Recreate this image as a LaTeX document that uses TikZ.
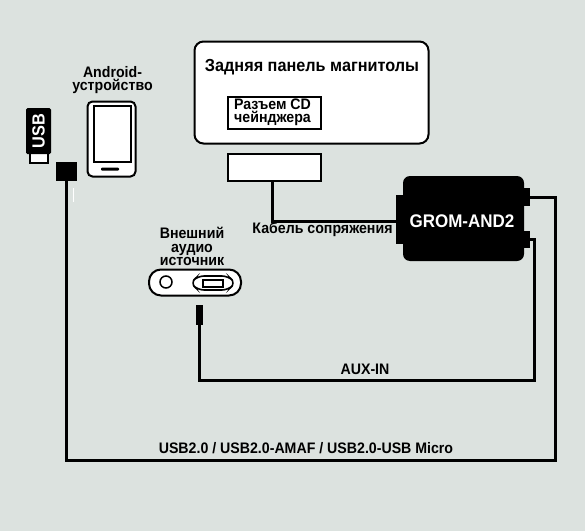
\documentclass[tikz,border=0pt]{standalone}
\usepackage{xcolor}
\usepackage{fontspec}
\setmainfont[FakeStretch=0.93]{Liberation Sans}
\usetikzlibrary{positioning,calc}
\definecolor{panelgray}{HTML}{DCE2DF}
\newlength{\px}
\setlength{\px}{0.03cm}
\tikzset{
    label/.style={inner sep=0pt, align=center, font=\fontsize{13pt}{11.2pt}\selectfont\bfseries},
    whitebox/.style={draw=black, fill=white, line width=2\px, inner sep=0pt},
    blackbox/.style={fill=black, inner sep=0pt},
    wire/.style={draw=black, line width=3\px}
}
\begin{document}
\begin{tikzpicture}[x=\px, y=-\px]
    \fill[panelgray] (0,0) rectangle (585,531);
    \useasboundingbox (0,0) rectangle (585,531);

    % head unit
    \node[whitebox, rounded corners=9\px, minimum width=234\px, minimum height=102\px] (head) at (311.5,92.5) {};
    \node[label, font=\fontsize{14.9pt}{15pt}\selectfont\bfseries] (headlabel) at (312,67) {Задняя панель магнитолы};
    \node[whitebox, minimum width=93\px, minimum height=32\px] (cdport) at (274,112.5) {};
    \node[label] (cdlabel) at (272.5,112.5) {Разъем CD\\чейнджера};
    \node[whitebox, minimum width=93\px, minimum height=27\px] (cdplug) at (274,167.5) {};

    % main unit
    \node[blackbox, minimum width=7\px, minimum height=49\px] (leftport) at (399.5,219.5) {};
    \node[blackbox, minimum width=7\px, minimum height=18\px] (usbport) at (526,197) {};
    \node[blackbox, minimum width=7\px, minimum height=17\px] (auxport) at (526,239) {};
    \node[blackbox, rounded corners=7\px, minimum width=121\px, minimum height=85\px] (grom) at (463.5,218.5) {};
    \node[text=white, inner sep=0pt, font=\fontsize{15.6pt}{17pt}\selectfont\bfseries] (gromlabel) at (462,221) {GROM-AND2};

    % phone
    \node[label] (phonelabel) at (112.5,80.5) {Android-\\устройство};
    \node[whitebox, rounded corners=5\px, minimum width=48\px, minimum height=75\px] (phone) at (111.5,139) {};
    \node[draw=black, line width=2\px, inner sep=0pt, minimum width=37\px, minimum height=56\px] (screen) at (112,134) {};
    \node[blackbox, rounded corners=1\px, minimum width=18\px, minimum height=3\px] (homekey) at (110,169) {};

    % usb stick
    \node[whitebox, minimum width=18\px, minimum height=12\px] (usbtip) at (38.5,157) {};
    \node[blackbox, rounded corners=1.5\px, minimum width=25\px, minimum height=46\px] (usbstick) at (38.5,131) {};
    \node[rotate=90, text=white, font=\fontsize{15pt}{15pt}\selectfont\bfseries, inner sep=0pt] (usbtext) at (38.5,131) {USB};
    \node[blackbox, minimum width=21\px, minimum height=19\px] (usbplug) at (66.5,171.5) {};
    \coordinate (tickA) at (73,188);
    \coordinate (tickB) at (73,202);
    \draw[white, line width=1\px] (tickA) -- (tickB);

    % external source
    \node[label] (sourcelabel) at (192,246.5) {Внешний\\аудио\\источник};
    \node[whitebox, rounded corners=12\px, minimum width=92\px, minimum height=26\px] (source) at (195,282.5) {};
    \node[draw=black, fill=white, circle, line width=1.5\px, inner sep=0pt, minimum size=12\px] (jack) at (166,282) {};
    \draw[black, line width=1.6\px, rounded corners=6\px] (190.5,283) -- (198,276) -- (228,276) -- (235.5,283) -- (228,290) -- (198,290) -- cycle;
    \node[draw=black, line width=2\px, inner sep=0pt, minimum width=20\px, minimum height=7\px] (socket) at (213,283) {};
    \node[blackbox, minimum width=7\px, minimum height=20\px] (auxplug) at (199.5,315) {};

    % cables
    \draw[wire] ([xshift=-2\px]cdplug.south) |- ([yshift=-1.5\px]leftport.west);
    \draw[wire] (auxport.east) -| (534.5,380) -| (auxplug.south);
    \draw[wire] (usbport.east) -| (555,460) -| (usbplug.south);

    \node[label] (cablelabel) at (322.5,229) {Кабель сопряжения};
    \node[label] (auxlabel) at (365,369) {AUX-IN};
    \node[label] (usblabel) at (306,448) {USB2.0 / USB2.0-AMAF / USB2.0-USB Micro};
\end{tikzpicture}
\end{document}
